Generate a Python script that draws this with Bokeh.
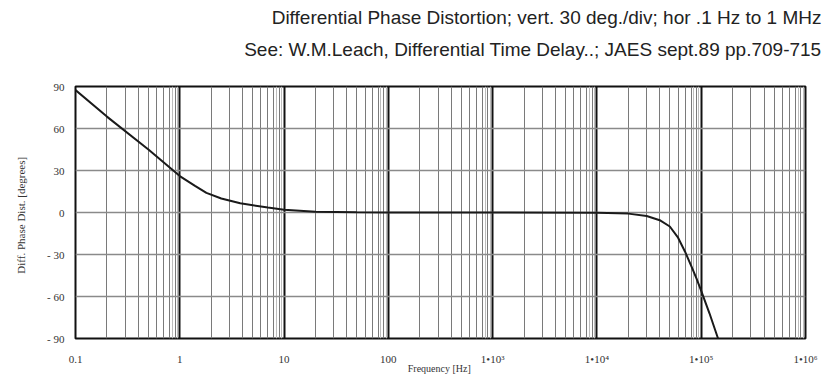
from bokeh.plotting import figure
from bokeh.models import FixedTicker, Title, Grid
from bokeh.embed import file_html
from bokeh.resources import INLINE

# data
freq_hz = [0.1, 0.2, 0.5, 1.0, 1.4, 1.8, 2.5, 3.8, 7.0, 10.0, 20.0, 50.0, 100.0,
           1e3, 1e4, 2e4, 3e4, 4e4, 5e4, 6e4, 7e4, 8e4, 9e4, 1e5, 1.2e5, 1.45e5]
phase_deg = [87.5, 68.5, 45.0, 26.0, 19.0, 14.0, 10.0, 6.6, 3.5, 2.0, 0.5, 0.1, 0.0,
             0.0, -0.2, -0.8, -2.5, -5.5, -10.0, -18.0, -28.0, -38.0, -47.0, -56.0, -72.0, -90.0]

x_ticks = [0.1, 1, 10, 100, 1e3, 1e4, 1e5, 1e6]
x_tick_labels = ["0.1", "1", "10", "100", "1•10³", "1•10⁴", "1•10⁵", "1•10⁶"]
y_ticks = [-90, -60, -30, 0, 30, 60, 90]
y_tick_labels = ["- 90", "- 60", "- 30", "0", "30", "60", "90"]
decades = [0.1, 1, 10, 100, 1e3, 1e4, 1e5]
minor_mult = [2, 3, 4, 5, 6, 7, 8, 9]
fine_mult = [8.5, 9.5]
minor_x = [m * d for d in decades for m in minor_mult]
fine_x = [m * d for d in decades for m in fine_mult]

title1 = "Differential Phase Distortion; vert. 30 deg./div; hor .1 Hz to 1 MHz"
title2 = "See: W.M.Leach, Differential Time Delay..; JAES sept.89 pp.709-715"
x_label = "Frequency  [Hz]"
y_label = "Diff.  Phase Dist.  [degrees]"

p = figure(width=835, height=378, x_axis_type="log",
           x_range=(0.1, 1e6), y_range=(-90, 90), output_backend="svg",
           toolbar_location=None, min_border_left=75, min_border_right=30,
           min_border_top=85, min_border_bottom=40)
p.background_fill_color = "white"
p.border_fill_color = "white"
p.outline_line_color = "#111111"
p.outline_line_width = 2
p.grid.visible = False

serif = "Liberation Serif"

xaxis = p.xaxis[0]
xaxis.ticker = FixedTicker(ticks=x_ticks, minor_ticks=minor_x)
xaxis.major_label_overrides = {t: l for t, l in zip(x_ticks, x_tick_labels)}
xaxis.axis_line_color = None
xaxis.major_tick_line_color = None
xaxis.minor_tick_line_color = None
xaxis.major_label_text_font = serif
xaxis.major_label_text_font_size = "11px"
xaxis.major_label_text_color = "#333333"
xaxis.major_label_standoff = 8
xaxis.axis_label = x_label
xaxis.axis_label_text_font = serif
xaxis.axis_label_text_font_style = "normal"
xaxis.axis_label_text_font_size = "10px"
xaxis.axis_label_text_color = "#333333"
xaxis.axis_label_standoff = -5

yaxis = p.yaxis[0]
yaxis.ticker = FixedTicker(ticks=y_ticks)
yaxis.major_label_overrides = {t: l for t, l in zip(y_ticks, y_tick_labels)}
yaxis.axis_line_color = None
yaxis.major_tick_line_color = None
yaxis.minor_tick_line_color = None
yaxis.major_label_text_font = serif
yaxis.major_label_text_font_size = "11px"
yaxis.major_label_text_color = "#333333"
yaxis.major_label_standoff = 5
yaxis.axis_label = y_label
yaxis.axis_label_text_font = serif
yaxis.axis_label_text_font_style = "normal"
yaxis.axis_label_text_font_size = "11px"
yaxis.axis_label_text_color = "#333333"
yaxis.axis_label_standoff = 17

fine_grid = Grid(dimension=0, ticker=FixedTicker(ticks=fine_x),
                 grid_line_color="#bdbdbd", grid_line_width=1)
xgrid = Grid(dimension=0, ticker=FixedTicker(ticks=x_ticks, minor_ticks=minor_x),
             grid_line_color="#111111", grid_line_width=2,
             minor_grid_line_color="#7a7a7a", minor_grid_line_width=1)
ygrid = Grid(dimension=1, ticker=FixedTicker(ticks=y_ticks),
             grid_line_color="#8a8a8a", grid_line_width=1.5)
p.add_layout(fine_grid)
p.add_layout(xgrid)
p.add_layout(ygrid)

p.line(freq_hz, phase_deg, line_color="#1a1a1a", line_width=2)

p.add_layout(Title(text=" ", text_font_size="9px"), "above")
for txt, so in [(title2, 10), (title1, 8)]:
    p.add_layout(Title(text=txt, align="right", offset=-16, standoff=so,
                       text_font="Liberation Sans", text_font_size="19px",
                       text_font_style="normal", text_color="#222222"), "above")

open("out.html", "w").write(file_html(p, INLINE))
